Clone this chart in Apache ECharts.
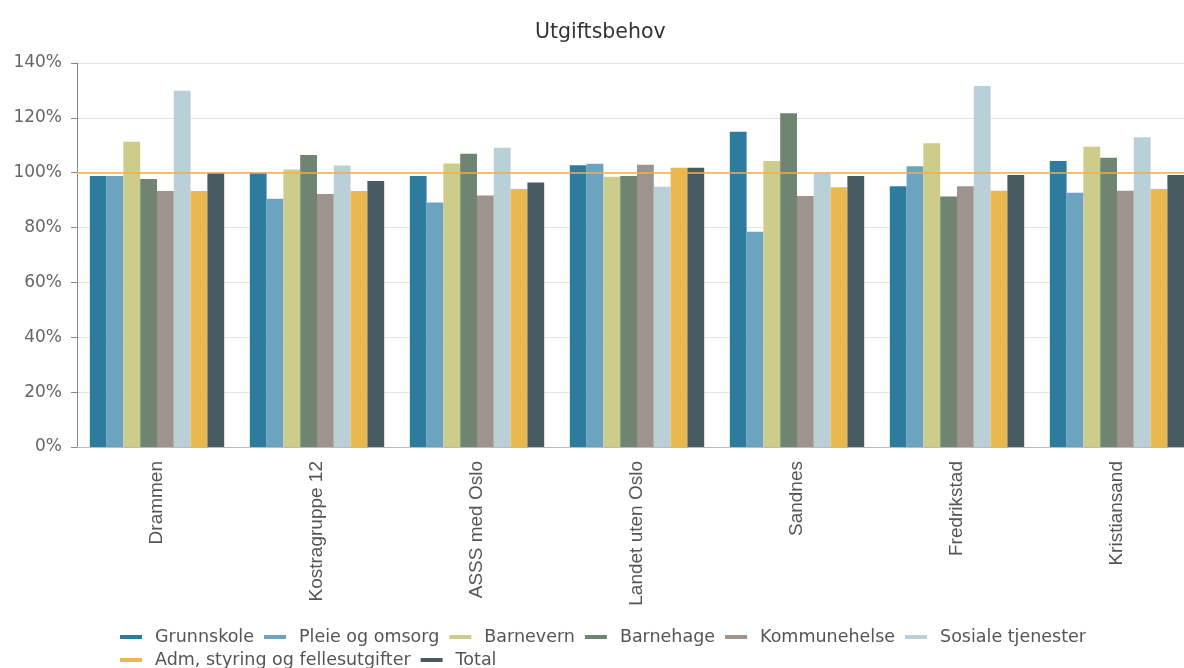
<!DOCTYPE html>
<html>
<head>
<meta charset="utf-8">
<script src="https://cdn.jsdelivr.net/npm/echarts@6/dist/echarts.min.js"></script>
<style>
html,body{margin:0;padding:0;background:#fff}
#Chart{width:1184px;height:668px}
</style>
</head>
<body>
<div id="Chart"></div>
<script>
var categories=["Drammen","Kostragruppe 12","ASSS med Oslo","Landet uten Oslo","Sandnes","Fredrikstad","Kristiansand"]
var seriesNames=["Grunnskole","Pleie og omsorg","Barnevern","Barnehage","Kommunehelse","Sosiale tjenester","Adm, styring og fellesutgifter","Total"]
var grunnskole=[98.8,100.0,98.8,102.7,114.9,95.1,104.3]
var pleie=[98.8,90.5,89.1,103.3,78.5,102.4,92.7]
var barnevern=[111.3,101.2,103.4,98.5,104.3,110.7,109.5]
var barnehage=[97.7,106.5,106.9,98.8,121.7,91.3,105.5]
var kommunehelse=[93.3,92.2,91.7,102.9,91.5,95.1,93.4]
var sosiale=[129.9,102.6,109.1,94.9,99.8,131.6,112.9]
var adm=[93.3,93.3,94.1,101.8,94.7,93.4,94.1]
var total=[100.0,97.0,96.4,101.8,98.8,99.2,99.2]
var yTicks=[0,20,40,60,80,100,120,140]
var colors=["#2e7ba0","#6ba3c0","#cdcc8a","#6f8471","#9e948d","#b9d0d8","#e9b84f","#4a5a62"]

function $each(arr,fn){
    for(var i=0;i<arr.length;i++) fn(i,arr[i])
}
var $={extend:function(a,b){for(var k in b) a[k]=b[k];return a}}

//图表
function drawChar(){
    var myChart=echarts.init(document.getElementById('Chart'))
    var values=[grunnskole,pleie,barnevern,barnehage,kommunehelse,sosiale,adm,total]
    var series=[]
    $each(values,function(i,item){
        var s={
            name:seriesNames[i],
            type:'bar',
            data:item,
            barGap:'0%',
            barCategoryGap:'16%',
            itemStyle:{color:colors[i]}
        }
        if(i==0){
            s.markLine={
                silent:true,
                symbol:'none',
                label:{show:false},
                lineStyle:{color:'#f2b04a',width:1.5,type:'solid'},
                data:[{yAxis:100}]
            }
        }
        series.push(s)
    })
    var legendBase={
        icon:'rect',
        itemWidth:22,
        itemHeight:4,
        itemGap:10,
        textStyle:{fontSize:17.5,color:'#555',padding:[0,0,0,8]}
    }
    var option={
        color:colors,
        animation:false,
        textStyle:{fontFamily:'"DejaVu Sans", sans-serif'},
        title:{
            text:'Utgiftsbehov',
            left:530,
            top:17,
            textStyle:{fontSize:20.5,fontWeight:'normal',color:'#333',fontFamily:'"DejaVu Sans", sans-serif'}
        },
        legend:[
            $.extend({left:115,top:623,data:seriesNames.slice(0,6)},legendBase),
            $.extend({left:115,top:646,data:seriesNames.slice(6)},legendBase)
        ],
        grid:{left:77,right:-13,top:63,bottom:221,outerBoundsMode:'none'},
        xAxis:{
            type:'category',
            data:categories,
            axisLine:{lineStyle:{color:'#bbb'}},
            axisTick:{lineStyle:{color:'#ccc'}},
            axisLabel:{rotate:90,fontSize:19,color:'#555',margin:14,fontFamily:'"Liberation Sans", Arial, sans-serif'}
        },
        yAxis:{
            type:'value',
            min:yTicks[0],
            max:yTicks[yTicks.length-1],
            interval:20,
            axisLine:{show:true,lineStyle:{color:'#888'}},
            axisTick:{show:true,length:6,lineStyle:{color:'#888'}},
            splitLine:{lineStyle:{color:'#e4e4e4'}},
            axisLabel:{fontSize:17,color:'#666',margin:15,formatter:'{value}%'}
        },
        series:series
    }
    myChart.setOption(option)
}

drawChar()
</script>
</body>
</html>
